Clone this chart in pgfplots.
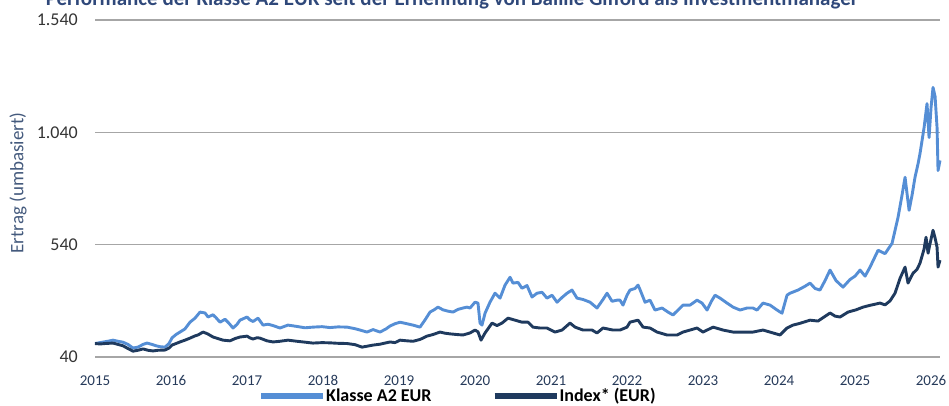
\documentclass[border=0pt]{standalone}
\usepackage{pgfplots}
\pgfplotsset{compat=1.18}
\usepackage{fontspec}
\setmainfont{Carlito}
\definecolor{aclass}{RGB}{85,142,213}
\definecolor{indexc}{RGB}{31,58,94}
\definecolor{gridc}{RGB}{166,166,166}
\definecolor{titlec}{RGB}{47,72,122}
\definecolor{xlab}{RGB}{38,58,90}
\definecolor{ylabc}{RGB}{68,90,125}
\begin{document}
\begin{tikzpicture}[x=1pt,y=1pt]
\useasboundingbox (0,0) rectangle (949,405);
\node[overlay, anchor=base, font=\fontsize{21}{24}\selectfont\bfseries, text=titlec, inner sep=0pt] at (452,399) {Performance der Klasse A2 EUR seit der Ernennung von Baillie Gifford als Investmentmanager};
\begin{axis}[
  at={(95pt,48pt)}, anchor=south west,
  scale only axis, width=845pt, height=337pt,
  xmin=2015, xmax=2026.118, ymin=40, ymax=1540,
  axis line style={draw=none},
  major tick length=0pt,
  xtick={2015,2016,2017,2018,2019,2020,2021,2022,2023,2024,2025,2026},
  xticklabels={2015,2016,2017,2018,2019,2020,2021,2022,2023,2024,2025,2026},
  xticklabel style={anchor=base, yshift=-28pt, font=\fontsize{15}{18}\selectfont, text=xlab},
  ytick={40,540,1040,1540},
  yticklabels={40,540,{1.040},{1.540}},
  yticklabel style={anchor=east, inner sep=0pt, xshift=-17pt, font=\fontsize{18}{20}\selectfont, text=black!80},
  ymajorgrids, major grid style={gridc, line width=1.1pt},
  clip=false,
  legend columns=2,
  legend style={at={(258pt-95pt,9pt-48pt)}, anchor=west, draw=none, fill=none, inner sep=0pt,
    font=\fontsize{18}{20}\selectfont\bfseries, text=black,
    nodes={inner sep=0pt},
    /tikz/every odd column/.append style={column sep=0pt},
    /tikz/every even column/.append style={column sep=60pt}},
  legend image code/.code={\draw[#1, line width=6pt] (0pt,0pt) -- (62pt,0pt);},
]
\addplot[aclass, line width=2.9pt, line join=round] table {
2015.000 100
2015.066 104
2015.132 108
2015.197 112
2015.237 115
2015.303 110
2015.368 106
2015.434 96
2015.500 80
2015.566 84
2015.632 96
2015.684 102
2015.750 96
2015.803 90
2015.855 86
2015.921 84
2015.974 100
2016.013 125
2016.066 140
2016.118 151
2016.184 165
2016.250 195
2016.316 213
2016.382 240
2016.447 236
2016.487 218
2016.553 228
2016.592 215
2016.645 195
2016.711 208
2016.763 190
2016.816 169
2016.868 185
2016.908 204
2016.961 212
2017.000 218
2017.039 205
2017.079 198
2017.145 213
2017.211 182
2017.276 186
2017.342 180
2017.434 169
2017.539 182
2017.658 176
2017.763 170
2017.868 173
2017.987 175
2018.092 171
2018.197 174
2018.316 173
2018.421 166
2018.487 160
2018.579 151
2018.658 162
2018.750 151
2018.829 165
2018.882 178
2018.947 188
2019.013 195
2019.105 188
2019.184 182
2019.276 173
2019.342 205
2019.408 240
2019.461 250
2019.513 262
2019.579 250
2019.645 244
2019.711 240
2019.776 252
2019.842 258
2019.895 262
2019.934 258
2020.000 284
2020.039 280
2020.066 191
2020.092 182
2020.132 235
2020.197 284
2020.263 324
2020.329 302
2020.395 360
2020.461 395
2020.500 369
2020.566 372
2020.618 346
2020.684 358
2020.750 307
2020.816 324
2020.882 328
2020.947 302
2021.013 315
2021.079 284
2021.145 305
2021.211 324
2021.276 338
2021.342 302
2021.421 296
2021.513 284
2021.605 258
2021.684 296
2021.737 324
2021.803 288
2021.868 293
2021.908 293
2021.947 271
2022.000 315
2022.039 338
2022.105 345
2022.145 360
2022.171 340
2022.237 284
2022.303 293
2022.368 249
2022.461 258
2022.539 240
2022.605 227
2022.671 249
2022.737 271
2022.829 271
2022.921 293
2022.987 280
2023.053 249
2023.105 285
2023.158 315
2023.224 302
2023.316 280
2023.395 262
2023.487 249
2023.579 258
2023.658 258
2023.711 249
2023.789 280
2023.882 271
2023.974 249
2024.039 235
2024.105 315
2024.145 324
2024.250 338
2024.342 355
2024.408 369
2024.474 345
2024.539 338
2024.605 380
2024.671 427
2024.750 380
2024.842 351
2024.934 385
2025.000 400
2025.066 427
2025.132 400
2025.197 440
2025.303 515
2025.395 500
2025.487 546
2025.566 662
2025.618 760
2025.658 840
2025.711 693
2025.750 760
2025.789 840
2025.829 900
2025.855 946
2025.908 1060
2025.947 1168
2025.974 1017
2026.000 1150
2026.026 1240
2026.053 1200
2026.079 1062
2026.092 870
2026.118 915
};
\addlegendentry{Klasse A2 EUR}
\addplot[indexc, line width=2.9pt, line join=round] table {
2015.000 100
2015.066 98
2015.132 100
2015.237 102
2015.303 96
2015.368 90
2015.421 80
2015.500 66
2015.566 70
2015.632 76
2015.697 70
2015.763 67
2015.829 70
2015.921 71
2015.974 80
2016.013 93
2016.066 100
2016.118 107
2016.184 115
2016.250 124
2016.316 134
2016.355 138
2016.421 151
2016.461 146
2016.487 142
2016.553 129
2016.618 122
2016.684 115
2016.776 112
2016.842 122
2016.908 129
2016.961 131
2017.000 133
2017.039 125
2017.079 120
2017.132 126
2017.171 124
2017.263 112
2017.342 107
2017.434 110
2017.539 115
2017.658 110
2017.763 106
2017.868 102
2017.987 104
2018.092 103
2018.197 101
2018.316 100
2018.421 95
2018.513 84
2018.579 88
2018.658 93
2018.750 97
2018.882 107
2018.947 104
2019.013 115
2019.105 112
2019.184 110
2019.276 118
2019.368 133
2019.447 140
2019.539 151
2019.605 146
2019.671 143
2019.763 140
2019.842 138
2019.934 147
2020.000 160
2020.039 152
2020.079 115
2020.132 147
2020.224 191
2020.289 180
2020.355 191
2020.434 213
2020.526 204
2020.618 195
2020.697 195
2020.763 173
2020.855 169
2020.947 169
2021.053 151
2021.145 160
2021.250 191
2021.316 173
2021.421 160
2021.539 160
2021.605 147
2021.684 169
2021.816 160
2021.908 160
2022.000 173
2022.039 195
2022.145 204
2022.211 173
2022.303 169
2022.395 151
2022.526 138
2022.658 138
2022.737 151
2022.829 160
2022.921 169
2023.000 151
2023.132 173
2023.263 160
2023.395 151
2023.526 151
2023.658 151
2023.789 160
2023.921 147
2024.013 138
2024.105 169
2024.184 182
2024.276 190
2024.408 204
2024.513 200
2024.579 215
2024.671 236
2024.737 222
2024.803 218
2024.908 240
2025.013 250
2025.105 262
2025.197 270
2025.329 280
2025.395 272
2025.461 290
2025.526 324
2025.592 390
2025.658 440
2025.697 369
2025.763 413
2025.816 430
2025.855 458
2025.908 520
2025.934 573
2025.961 502
2025.987 545
2026.026 604
2026.053 570
2026.079 529
2026.092 440
2026.118 471
};
\addlegendentry{Index* (EUR)}
\end{axis}
\node[rotate=90, font=\fontsize{19}{22}\selectfont, text=ylabc] at (18,222) {Ertrag (umbasiert)};
\end{tikzpicture}
\end{document}
